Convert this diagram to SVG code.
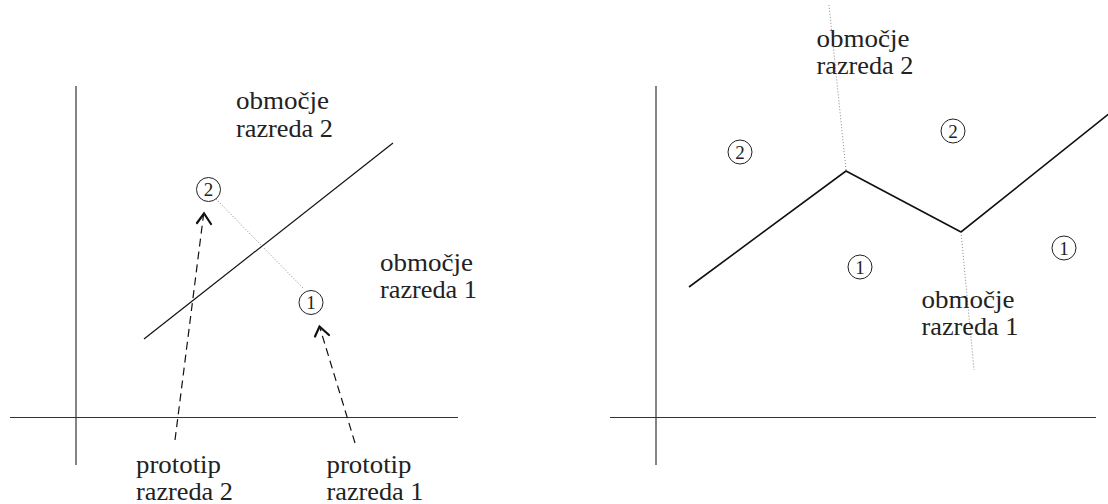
<svg xmlns="http://www.w3.org/2000/svg" width="1108" height="504" viewBox="0 0 1108 504">
<style>
.axis{stroke:#333;stroke-width:1.2;fill:none}
.bound{stroke:#111;stroke-width:1.2;fill:none}
.bound2{stroke:#111;stroke-width:1.6;fill:none}
.dot{stroke:#888;stroke-width:1;stroke-dasharray:1 2;fill:none}
.dash{stroke:#111;stroke-width:1.2;stroke-dasharray:8 5;fill:none}
.head{stroke:#111;stroke-width:2.2;fill:none;stroke-linecap:round;stroke-linejoin:miter}
.lbl{font-family:"Liberation Serif","Times New Roman",serif;font-size:26px;fill:#222}
.pc{fill:none;stroke:#222;stroke-width:1}
.pn{font-family:"Liberation Serif","Times New Roman",serif;font-size:19px;fill:#222;text-anchor:middle}
</style>
<rect width="1108" height="504" fill="#fff"/>
<g id="axes">
<line class="axis" x1="76" y1="86" x2="76" y2="465"/>
<line class="axis" x1="10" y1="417.5" x2="458" y2="417.5"/>
<line class="axis" x1="656" y1="86" x2="656" y2="465"/>
<line class="axis" x1="610" y1="417.5" x2="1096" y2="417.5"/>
</g>
<g id="connectors">
<line class="bound" x1="144" y1="339" x2="393" y2="143"/>
<line class="dot" x1="216" y1="199" x2="303" y2="288"/>
<line class="dash" x1="175" y1="440" x2="203.5" y2="215"/>
<polyline class="head" points="197,223 204,213.5 211,224"/>
<line class="dash" x1="355" y1="443" x2="320" y2="328"/>
<polyline class="head" points="315,336.5 319.5,326.5 329,335"/>
<polyline class="bound2" points="689,287 846,171 961,232 1110,113"/>
<line class="dot" x1="846" y1="170" x2="829" y2="5"/>
<line class="dot" x1="961" y1="232" x2="974" y2="370"/>
</g>
<g id="p2-left"><circle class="pc" cx="208.5" cy="189.5" r="12"/><text class="pn" x="208.5" y="196">2</text></g>
<g id="p1-left"><circle class="pc" cx="311" cy="302.5" r="12"/><text class="pn" x="311" y="309">1</text></g>
<g id="p2a-right"><circle class="pc" cx="740" cy="152" r="12"/><text class="pn" x="740" y="158.5">2</text></g>
<g id="p2b-right"><circle class="pc" cx="953" cy="131" r="12"/><text class="pn" x="953" y="137.5">2</text></g>
<g id="p1a-right"><circle class="pc" cx="860" cy="267" r="12"/><text class="pn" x="860" y="273.5">1</text></g>
<g id="p1b-right"><circle class="pc" cx="1064" cy="248" r="12"/><text class="pn" x="1064" y="254.5">1</text></g>
<g id="label-r2-left">
<text class="lbl" x="236" y="109" textLength="93" lengthAdjust="spacingAndGlyphs">območje</text>
<text class="lbl" x="236" y="136.5" textLength="97" lengthAdjust="spacingAndGlyphs">razreda 2</text>
</g>
<g id="label-r1-left">
<text class="lbl" x="380" y="271" textLength="93" lengthAdjust="spacingAndGlyphs">območje</text>
<text class="lbl" x="380" y="298" textLength="97" lengthAdjust="spacingAndGlyphs">razreda 1</text>
</g>
<g id="label-proto2">
<text class="lbl" x="136" y="473" textLength="85" lengthAdjust="spacingAndGlyphs">prototip</text>
<text class="lbl" x="136" y="500" textLength="97" lengthAdjust="spacingAndGlyphs">razreda 2</text>
</g>
<g id="label-proto1">
<text class="lbl" x="326.5" y="473" textLength="85" lengthAdjust="spacingAndGlyphs">prototip</text>
<text class="lbl" x="326.5" y="500" textLength="97" lengthAdjust="spacingAndGlyphs">razreda 1</text>
</g>
<g id="label-r2-right">
<text class="lbl" x="816.5" y="46.5" textLength="93" lengthAdjust="spacingAndGlyphs">območje</text>
<text class="lbl" x="816.5" y="73.5" textLength="97" lengthAdjust="spacingAndGlyphs">razreda 2</text>
</g>
<g id="label-r1-right">
<text class="lbl" x="921.5" y="307.5" textLength="93" lengthAdjust="spacingAndGlyphs">območje</text>
<text class="lbl" x="921.5" y="335" textLength="97" lengthAdjust="spacingAndGlyphs">razreda 1</text>
</g>
</svg>
